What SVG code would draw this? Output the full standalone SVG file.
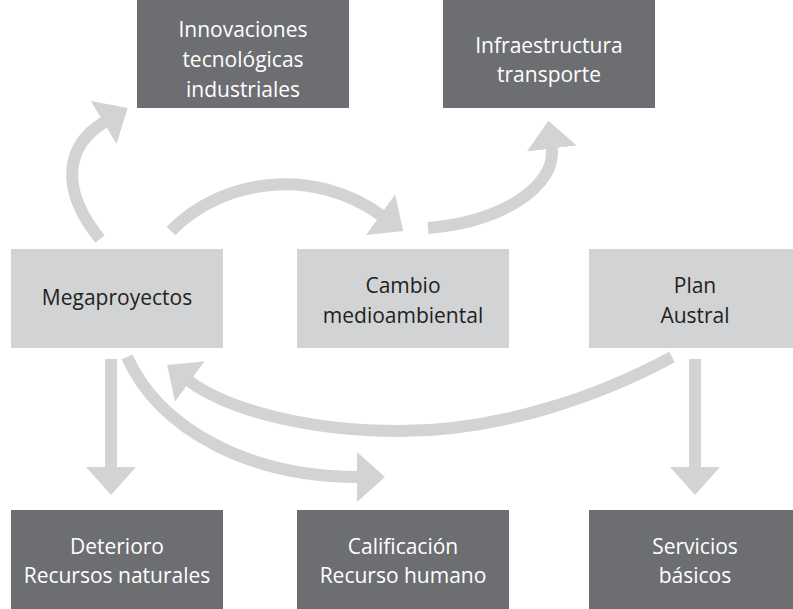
<svg xmlns="http://www.w3.org/2000/svg" width="793" height="609" viewBox="0 0 793 609">
<style>
.dark{fill:#6d6e71}
.light{fill:#d1d3d4}
text{font-family:"Open Sans","Noto Sans","Liberation Sans",sans-serif;font-size:21px;text-anchor:middle}
.tw{fill:#ffffff}
.tb{fill:#231f20}
.conn{fill:none;stroke:#d1d3d4;stroke-width:12;stroke-linecap:butt}
</style>
<defs>
<marker id="head" viewBox="0 0 28 50" refX="1" refY="25" markerWidth="28" markerHeight="50" markerUnits="userSpaceOnUse" orient="auto">
<path d="M0,0 L28,25 L0,50 Z" fill="#d1d3d4"/>
</marker>
</defs>
<g id="connectors">
<path class="conn" d="M100,239 C60,190 64.5,146 104.5,122" marker-end="url(#head)"/>
<path class="conn" d="M171,231 C220,180 311,165 381.3,215.3" marker-end="url(#head)"/>
<path class="conn" d="M428,228 C500,222 556.7,187.5 551.7,147.5" marker-end="url(#head)"/>
<path class="conn" d="M111,359 L111,468" marker-end="url(#head)"/>
<path class="conn" d="M127,357 C160,430 250,477 358,477" marker-end="url(#head)"/>
<path class="conn" d="M672,357 C600,396 500,431 400,431 C310,431 230,411 189,381" marker-end="url(#head)"/>
<path class="conn" d="M695,359 L695,468" marker-end="url(#head)"/>
</g>
<g id="innovaciones">
<rect class="dark" x="137" y="0" width="212" height="108"/>
<text class="tw" x="243" y="37">Innovaciones</text>
<text class="tw" x="243" y="67">tecnológicas</text>
<text class="tw" x="243" y="97">industriales</text>
</g>
<g id="infraestructura">
<rect class="dark" x="443" y="0" width="212" height="108"/>
<text class="tw" x="549" y="53">Infraestructura</text>
<text class="tw" x="549" y="82">transporte</text>
</g>
<g id="megaproyectos">
<rect class="light" x="11" y="249" width="212" height="99"/>
<text class="tb" x="117" y="305">Megaproyectos</text>
</g>
<g id="cambio">
<rect class="light" x="297" y="249" width="212" height="99"/>
<text class="tb" x="403" y="293">Cambio</text>
<text class="tb" x="403" y="323">medioambiental</text>
</g>
<g id="plan">
<rect class="light" x="589" y="249" width="204" height="99"/>
<text class="tb" x="695" y="293">Plan</text>
<text class="tb" x="695" y="323">Austral</text>
</g>
<g id="deterioro">
<rect class="dark" x="11" y="510" width="212" height="99"/>
<text class="tw" x="117" y="554">Deterioro</text>
<text class="tw" x="117" y="583">Recursos naturales</text>
</g>
<g id="calificacion">
<rect class="dark" x="297" y="510" width="212" height="99"/>
<text class="tw" x="403" y="554">Calificación</text>
<text class="tw" x="403" y="583">Recurso humano</text>
</g>
<g id="servicios">
<rect class="dark" x="589" y="510" width="204" height="99"/>
<text class="tw" x="695" y="554">Servicios</text>
<text class="tw" x="695" y="583">básicos</text>
</g>
</svg>
